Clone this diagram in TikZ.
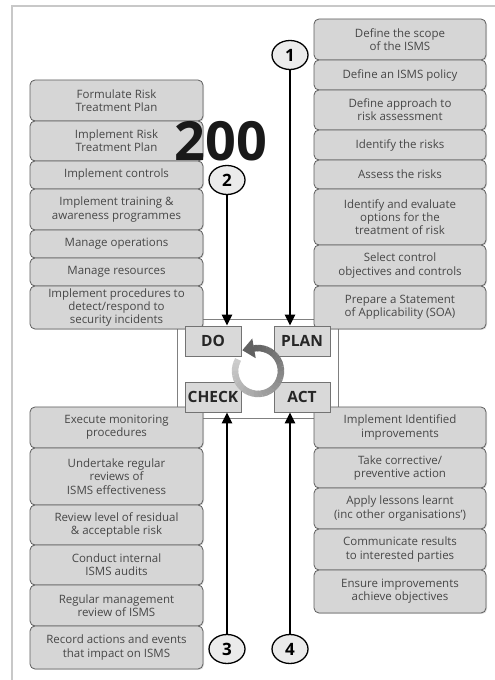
\documentclass[tikz,border=0pt]{standalone}
\usepackage{fontspec}
\setmainfont{Open Sans}
\usetikzlibrary{arrows.meta,shapes.geometric,shadows,calc}
\definecolor{boxfill}{HTML}{D6D6D6}
\definecolor{boxline}{HTML}{5E5E5E}
\definecolor{framegray}{HTML}{C8C8C8}
\begin{document}
\begin{tikzpicture}[x=1pt,y=1pt,
  actbox/.style={draw=boxline, fill=boxfill, rounded corners=5pt, line width=0.8pt,
    align=center, inner sep=0pt, text=black!72,
    font=\fontsize{11.5}{13.3}\selectfont,
    drop shadow={shadow xshift=1pt,shadow yshift=-1pt,opacity=0.25}},
  lbox/.style={actbox, minimum width=173pt},
  rbox/.style={actbox, minimum width=172pt},
  phase/.style={draw=black!55, fill=black!15, line width=0.8pt, minimum width=56pt,
    minimum height=30pt, inner sep=0pt, text=black!85,
    font=\bfseries\fontsize{15.5}{16}\selectfont},
  num/.style={ellipse, draw=black, line width=1.3pt, fill=black!8, minimum width=36pt,
    minimum height=29pt, inner sep=0pt, font=\bfseries\fontsize{17}{17}\selectfont},
  flow/.style={line width=2.6pt, -{Triangle[length=11pt,width=10pt]}}
]
\useasboundingbox (0,0) rectangle (495,680);
\fill[white] (0,0) rectangle (495,680);
\draw[framegray, line width=1.6pt] (12,0) -- (12,674) -- (495,674);

% central square
\node[draw=black!50, line width=0.8pt, minimum width=161pt, minimum height=99pt, inner sep=0pt] (core) at (257.5,311.5) {};

% DO column (top left)
\node[lbox, minimum height=41pt] (l1) at (116.5,579.5) {Formulate Risk\\Treatment Plan};
\node[lbox, minimum height=40pt] (l2) at (116.5,539) {Implement Risk\\Treatment Plan};
\node[lbox, minimum height=28pt] (l3) at (116.5,505) {Implement controls};
\node[lbox, minimum height=41pt] (l4) at (116.5,470.5) {Implement training \&\\awareness programmes};
\node[lbox, minimum height=28pt] (l5) at (116.5,436) {Manage operations};
\node[lbox, minimum height=28pt] (l6) at (116.5,408) {Manage resources};
\node[lbox, minimum height=43pt] (l7) at (116.5,372.5) {Implement procedures to\\detect/respond to\\security incidents};

% PLAN column (top right)
\node[rbox, minimum height=41pt] (r1) at (400,640.5) {Define the scope\\of the ISMS};
\node[rbox, minimum height=30pt] (r2) at (400,605) {Define an ISMS policy};
\node[rbox, minimum height=40pt] (r3) at (400,570) {Define approach to\\risk assessment};
\node[rbox, minimum height=30pt] (r4) at (400,535) {Identify the risks};
\node[rbox, minimum height=29pt] (r5) at (400,505.5) {Assess the risks};
\node[rbox, minimum height=56pt] (r6) at (400,463) {Identify and evaluate\\options for the\\treatment of risk};
\node[rbox, minimum height=41pt] (r7) at (400,414.5) {Select control\\objectives and controls};
\node[rbox, minimum height=43pt] (r8) at (400,372.5) {Prepare a Statement\\of Applicability (SOA)};

% CHECK column (bottom left)
\node[lbox, minimum height=41pt] (b1) at (116.5,252.5) {Execute monitoring\\procedures};
\node[lbox, minimum height=57pt] (b2) at (116.5,203.5) {Undertake regular\\reviews of\\ISMS effectiveness};
\node[lbox, minimum height=40pt] (b3) at (116.5,155) {Review level of residual\\\& acceptable risk};
\node[lbox, minimum height=40pt] (b4) at (116.5,115) {Conduct internal\\ISMS audits};
\node[lbox, minimum height=41pt] (b5) at (116.5,74.5) {Regular management\\review of ISMS};
\node[lbox, minimum height=43pt] (b6) at (116.5,32.5) {Record actions and events\\that impact on ISMS};

% ACT column (bottom right)
\node[rbox, minimum height=41pt] (a1) at (400,252.5) {Implement Identified\\improvements};
\node[rbox, minimum height=40pt] (a2) at (400,212) {Take corrective/\\preventive action};
\node[rbox, minimum height=41pt] (a3) at (400,171.5) {Apply lessons learnt\\(inc other organisations’)};
\node[rbox, minimum height=41pt] (a4) at (400,130.5) {Communicate results\\to interested parties};
\node[rbox, minimum height=43pt] (a5) at (400,88.5) {Ensure improvements\\achieve objectives};

% phase boxes
\node[phase] (do) at (213,339) {DO};
\node[phase] (plan) at (302,339) {PLAN};
\node[phase] (check) at (213,283) {CHECK};
\node[phase] (act) at (302,283) {ACT};

% numbered circles
\node[num] (c1) at (290,625) {1};
\node[num] (c2) at (227,500) {2};
\node[num] (c3) at (227,31) {3};
\node[num] (c4) at (290,31) {4};

% arrows
\draw[flow] (c1.south) -- (c1.south |- plan.north);
\draw[flow] (c2.south) -- (c2.south |- do.north);
\draw[flow] (c3.north) -- (c3.north |- check.south);
\draw[flow] (c4.north) -- (c4.north |- act.south);

% big number
\node[inner sep=0pt, font=\bfseries\fontsize{54}{54}\selectfont, text=black!90] (big) at (221,539) {200};

% cycle ring
\coordinate (ring) at (258,309);
\foreach \i in {0,...,30} {
  \pgfmathsetmacro\a{-210+10*\i}
  \pgfmathtruncatemacro\g{20+\i*1.4}
  \draw[line width=6.5pt, black!\g] ($(ring)+(\a:23)$) arc[start angle=\a, end angle=\a+11, radius=23];
}
\fill[black!62] ($(ring)+(100:13)$) -- ($(ring)+(100:33)$) -- ($(ring)+(127:26)$) -- cycle;
\end{tikzpicture}
\end{document}
